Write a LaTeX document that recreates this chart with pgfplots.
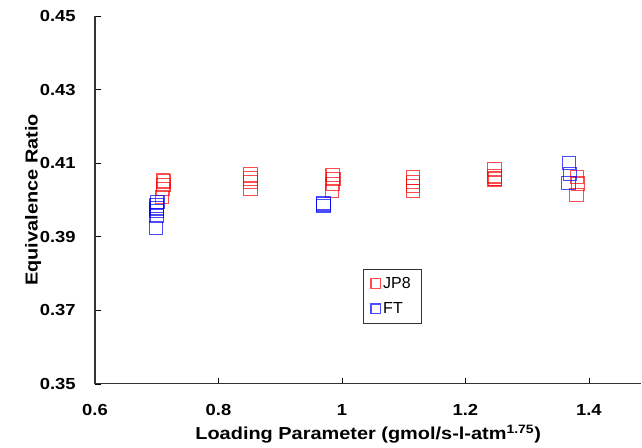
\documentclass[border=0pt]{standalone}
\usepackage{fontspec}
\setmainfont{Liberation Sans}[BoldFeatures={FakeStretch=1.15}]
\usepackage{pgfplots}
\pgfplotsset{compat=1.18}

\begin{document}
\begin{tikzpicture}
\begin{axis}[
    scale only axis,
    width=410pt, height=276pt,
    xmin=0.6, xmax=1.485,
    ymin=0.35, ymax=0.45,
    axis lines=left,
    axis line style={-, line width=0.9pt, black!80},
    xtick={0.6,0.8,1,1.2,1.4},
    ytick={0.35,0.37,0.39,0.41,0.43,0.45},
    /pgf/number format/assume math mode=true,
    tick align=inside,
    major tick length=4.5pt,
    tick style={black, line width=0.5pt},
    tick label style={font=\fontsize{12}{14}\selectfont\bfseries},
    xticklabel style={yshift=-12pt},
    yticklabel style={xshift=-11pt, /pgf/number format/.cd, fixed, fixed zerofill, precision=2},
    label style={font=\fontsize{13}{15}\selectfont\bfseries},
    xlabel={Loading Parameter (gmol/s-l-atm\textsuperscript{1.75})},
    ylabel={Equivalence Ratio},
    xlabel style={yshift=0pt},
    ylabel style={yshift=-8pt},
    legend style={at={(0.49,0.3125)}, anchor=north west, draw=black!80,
        font=\fontsize{12}{14}\selectfont, row sep=5pt, inner xsep=6pt, inner ysep=4pt},
    legend cell align=left,
    legend image post style={mark size=3.6pt},
    clip=false,
]
\addplot[only marks, mark=square, mark size=5pt,
    mark options={draw=red, draw opacity=0.7, line width=0.85pt}]
coordinates {
(0.710,0.4053) (0.712,0.4050) (0.711,0.4041) (0.710,0.4030) (0.709,0.4008)
(0.852,0.4069) (0.852,0.4058) (0.852,0.4049) (0.852,0.4030)
(0.985,0.4067) (0.986,0.4057) (0.985,0.4043) (0.984,0.4024)
(1.115,0.4061) (1.115,0.4049) (1.115,0.4038) (1.115,0.4024)
(1.247,0.4083) (1.247,0.4064) (1.248,0.4058) (1.247,0.4056)
(1.381,0.4062) (1.382,0.4044) (1.380,0.4013)
};
\addlegendentry{JP8}
\addplot[only marks, mark=square, mark size=5pt,
    mark options={draw=blue, draw opacity=0.7, line width=0.85pt}]
coordinates {
(0.701,0.3994) (0.700,0.3985) (0.700,0.3977) (0.700,0.3970) (0.700,0.3957) (0.699,0.3923)
(0.970,0.3992) (0.970,0.3988) (0.970,0.3984)
(1.368,0.4101) (1.369,0.4071) (1.367,0.4046)
};
\addlegendentry{FT}
\end{axis}
\path ([xshift=-71.25pt]current axis.south west);
\path ([yshift=12pt]current axis.north west);
\end{tikzpicture}
\end{document}
